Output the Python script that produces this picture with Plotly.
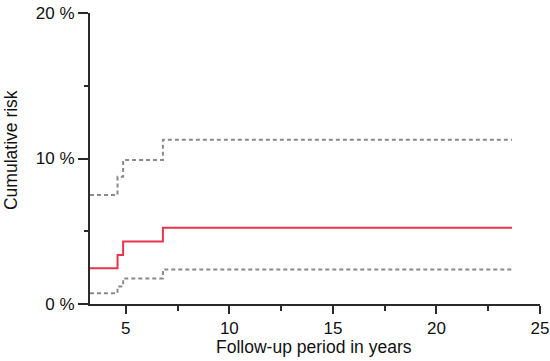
import plotly.graph_objects as go

# Follow-up time (years) at which the step curves change
times = [3.27, 4.60, 4.87, 6.79, 23.65]
risk = [2.46, 3.36, 4.30, 5.24, 5.24]          # cumulative risk (%)
upper_ci = [7.50, 8.75, 9.90, 11.29, 11.29]    # upper confidence limit (%)
lower_ci = [0.74, 1.20, 1.75, 2.37, 2.37]      # lower confidence limit (%)

x_ticks = [5, 10, 15, 20, 25]
y_ticks = [0, 10, 20]
y_tick_labels = ["0 %", "10 %", "20 %"]

font = "Liberation Sans, Arial, Helvetica, sans-serif"
axis_col = "#2a2a2a"

fig = go.Figure()
for ys in (upper_ci, lower_ci):
    fig.add_trace(go.Scatter(x=times, y=ys, mode="lines", line_shape="hv",
                             line=dict(color="#8a8a8a", width=2, dash="4px,3px"),
                             showlegend=False, hoverinfo="skip"))
fig.add_trace(go.Scatter(x=times, y=risk, mode="lines", line_shape="hv",
                         line=dict(color="#e8344c", width=2),
                         showlegend=False))

fig.update_layout(
    width=550, height=361,
    margin=dict(l=90, r=10, t=13, b=57),
    plot_bgcolor="white", paper_bgcolor="white",
    font=dict(family=font, size=17, color="#111"),
    xaxis=dict(range=[3.27, 25], showgrid=False, zeroline=False, automargin=False,
               showline=True, linecolor=axis_col, linewidth=2,
               ticks="outside", ticklen=8, tickwidth=2, tickcolor=axis_col,
               tickvals=x_ticks, ticktext=[str(v) for v in x_ticks],
               minor=dict(tickvals=[7.5, 12.5, 17.5, 22.5], ticks="outside",
                          ticklen=5, tickwidth=2, tickcolor=axis_col)),
    yaxis=dict(range=[0, 20], showgrid=False, zeroline=False, automargin=False,
               showline=True, linecolor=axis_col, linewidth=2,
               ticks="outside", ticklen=10, tickwidth=2, tickcolor=axis_col,
               tickvals=y_ticks, ticktext=y_tick_labels,
               minor=dict(tickvals=[5, 15], ticks="outside",
                          ticklen=4, tickwidth=2, tickcolor=axis_col)),
    annotations=[
        dict(text="Follow-up period in years", xref="paper", yref="paper",
             x=0.498, y=-0.149, xanchor="center", yanchor="middle",
             showarrow=False, borderpad=0, font=dict(size=17.5)),
        dict(text="Cumulative risk", xref="paper", yref="paper",
             x=-0.1744, y=0.5275, xanchor="center", yanchor="middle",
             textangle=-90, showarrow=False, borderpad=0, font=dict(size=17.5)),
    ],
)

fig.write_html("out.html", config={"displayModeBar": False},
               post_script="document.body.style.margin='0';"
                           "document.body.style.padding='0';")
